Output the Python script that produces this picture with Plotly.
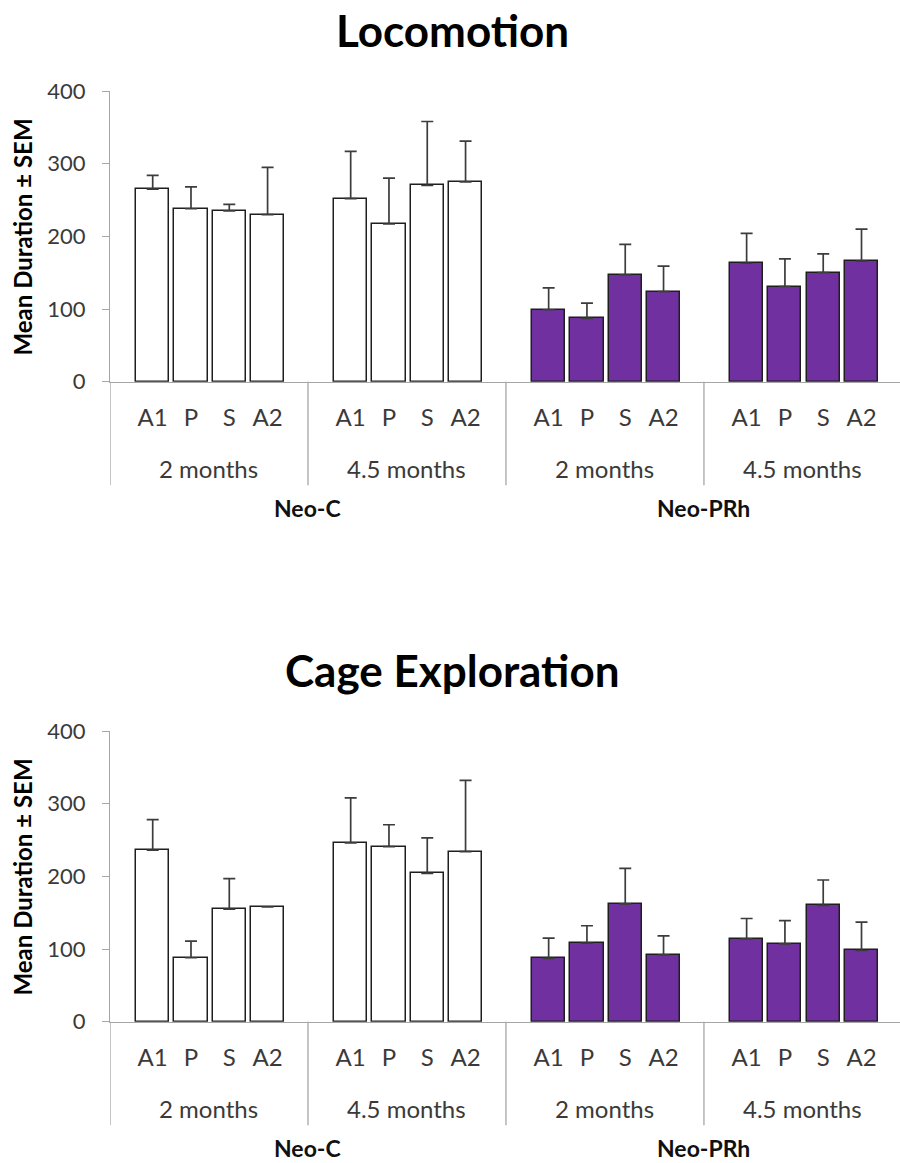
import plotly.graph_objects as go

# ---------------- data ----------------
treatments = ["Neo-C", "Neo-PRh"]
ages = ["2 months", "4.5 months"]
phases = ["A1", "P", "S", "A2"]

loco_mean = [265, 238, 235, 230, 252, 217, 270, 275, 99, 87, 147, 124, 163, 131, 150, 166]
loco_sem = [19, 30, 9, 65, 65, 63, 88, 56, 30, 21, 42, 35, 41, 38, 26, 44]

cage_mean = [236, 88, 155, 158, 246, 241, 204, 234, 87, 108, 162, 92, 114, 107, 160, 98]
cage_sem = [42, 23, 42, 0, 62, 30, 49, 98, 28, 24, 49, 26, 28, 32, 35, 39]

panel_titles = ["Locomotion", "Cage Exploration"]
y_title = "Mean Duration ± SEM"
y_ticks = [0, 100, 200, 300, 400]

treat_colors = {"Neo-C": "#FFFFFF", "Neo-PRh": "#7030A0"}

# ---------------- layout helpers ----------------
W, H = 900, 1163
GROUP_W = 5.17          # width of one age-group in axis units
FIRST_OFF = 1.115       # offset of first bar inside a group
X_RANGE = [0, 20.63]
PANEL_SHIFT = 640       # px between the two panels

def py(px):
    return 1 - px / H

# pixel positions of top panel
top_y400, top_y0 = 91.0, 381.7
panel_domains = [
    [py(top_y0), py(top_y400)],
    [py(top_y0 + PANEL_SHIFT), py(top_y400 + PANEL_SHIFT)],
]

# build x positions, groups
groups = [(t, a) for t in treatments for a in ages]
xpos, xtext, colors = [], [], []
for gi, (t, a) in enumerate(groups):
    for pi, p in enumerate(phases):
        xpos.append(gi * GROUP_W + FIRST_OFF + pi)
        xtext.append(p)
        colors.append(treat_colors[t])

fig = go.Figure()
label_font = dict(family="Lato", size=24, color="#3a3a3a")

for k, (means, sems) in enumerate([(loco_mean, loco_sem), (cage_mean, cage_sem)]):
    xa = "x" if k == 0 else "x2"
    ya = "y" if k == 0 else "y2"
    fig.add_trace(go.Bar(
        x=xpos, y=means, width=0.865,
        marker=dict(color=colors, line=dict(color="#1e1e1e", width=1.5)),
        error_y=dict(type="data", symmetric=False, array=sems,
                     arrayminus=[0] * len(sems), color="#3c3c3c",
                     thickness=1.7, width=6),
        xaxis=xa, yaxis=ya, showlegend=False, hoverinfo="skip",
    ))

axis_common_x = dict(
    range=X_RANGE, domain=[110 / W, 1.0], showgrid=False, zeroline=False,
    showline=True, linecolor="#a6a6a6", linewidth=1.3, automargin=False,
    tickmode="array", tickvals=xpos, ticktext=xtext, ticks="",
    tickfont=label_font, ticklabelstandoff=14, fixedrange=True,
)
axis_common_y = dict(
    range=[0, 400], showgrid=False, zeroline=False, showline=True,
    linecolor="#a6a6a6", linewidth=1.3, tickmode="array", tickvals=y_ticks,
    ticks="outside", ticklen=7, tickcolor="#a6a6a6", tickwidth=1.3,
    tickfont=dict(family="Lato", size=22, color="#3a3a3a"), automargin=False,
    ticklabelstandoff=12, fixedrange=True,
)

fig.update_layout(
    template="none",
    width=W, height=H, margin=dict(l=0, r=0, t=0, b=0, autoexpand=False),
    paper_bgcolor="white", plot_bgcolor="white",
    xaxis=dict(anchor="y", **axis_common_x),
    yaxis=dict(anchor="x", domain=panel_domains[0], **axis_common_y),
    xaxis2=dict(anchor="y2", **axis_common_x),
    yaxis2=dict(anchor="x2", domain=panel_domains[1], **axis_common_y),
    bargap=0,
)

shapes, annotations = [], []
for k in range(2):
    shift = k * PANEL_SHIFT
    xa = "x" if k == 0 else "x2"
    y0px = top_y0 + shift
    # group separators
    for gi in range(len(groups)):
        shapes.append(dict(type="line", xref=xa, yref="paper",
                           x0=gi * GROUP_W, x1=gi * GROUP_W,
                           y0=py(y0px), y1=py(y0px + 103.5),
                           line=dict(color="#a6a6a6", width=1.3)))
    # age labels
    for gi, (t, a) in enumerate(groups):
        annotations.append(dict(text=a, xref=xa, yref="paper",
                                x=gi * GROUP_W + GROUP_W / 2, y=py(468 + shift),
                                showarrow=False, font=label_font,
                                xanchor="center", yanchor="middle"))
    # treatment labels
    for ti, t in enumerate(treatments):
        annotations.append(dict(text="<b>" + t + "</b>", xref=xa, yref="paper",
                                x=(2 * ti + 1) * GROUP_W, y=py(508 + shift),
                                showarrow=False,
                                font=dict(family="Lato", size=23, color="#111"),
                                xanchor="center", yanchor="middle"))
    # panel title
    annotations.append(dict(text="<b>" + panel_titles[k] + "</b>", xref="paper",
                            yref="paper", x=452 / W, y=py(30 + shift),
                            showarrow=False,
                            font=dict(family="Lato", size=44, color="#000"),
                            xanchor="center", yanchor="middle"))
    # y-axis title
    annotations.append(dict(text="<b>" + y_title + "</b>", xref="paper",
                            yref="paper", x=22 / W, y=py(237.5 + shift),
                            textangle=-90, showarrow=False,
                            font=dict(family="Lato", size=24, color="#000"),
                            xanchor="center", yanchor="middle"))

fig.update_layout(shapes=shapes, annotations=annotations)
fig.write_html("out.html")
